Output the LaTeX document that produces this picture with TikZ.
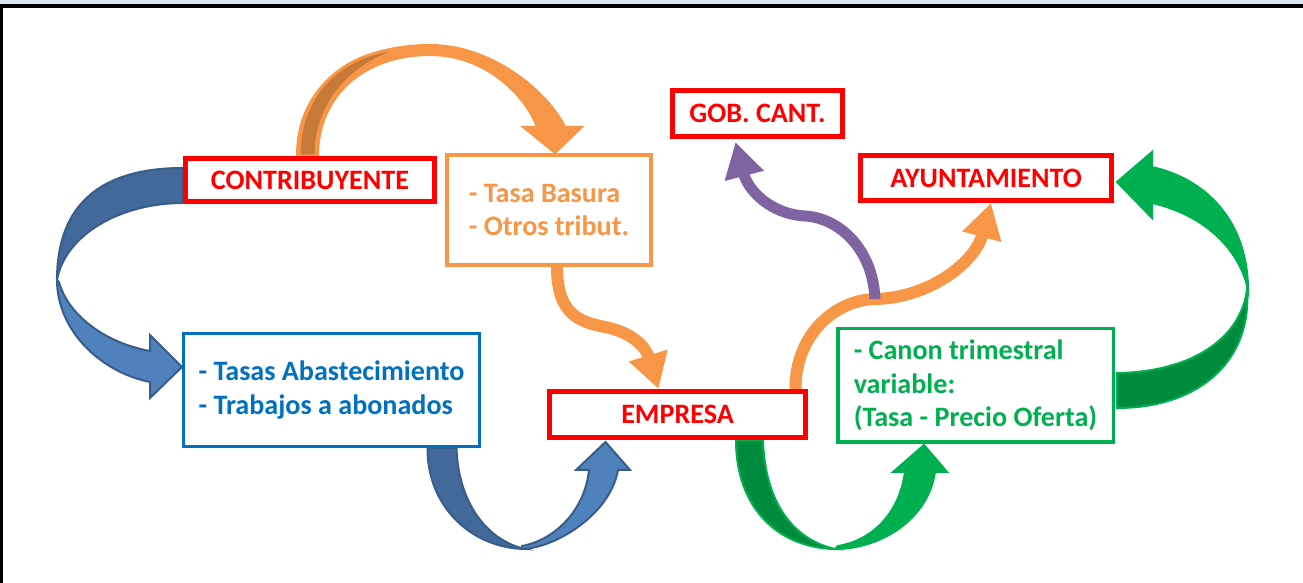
\documentclass[tikz,border=0pt]{standalone}
\usepackage{fontspec}
\setmainfont{Carlito}
\usetikzlibrary{arrows.meta, calc}

\definecolor{boxred}{RGB}{255,0,0}
\definecolor{tasaorange}{RGB}{247,150,70}
\definecolor{tasaback}{RGB}{199,122,56}
\definecolor{aguablue}{RGB}{0,112,192}
\definecolor{arrowblue}{RGB}{79,129,189}
\definecolor{arrowblueback}{RGB}{66,105,154}
\definecolor{arrowblueline}{RGB}{56,93,138}
\definecolor{canongreen}{RGB}{0,176,80}
\definecolor{canonback}{RGB}{0,138,62}
\definecolor{gobpurple}{RGB}{128,100,162}
\definecolor{framesky}{RGB}{220,230,242}

\newcommand{\boxfont}{\fontsize{16}{19}\selectfont\bfseries}

\pgfdeclarelayer{bg}
\pgfsetlayers{bg,main}

\begin{document}
\begin{tikzpicture}[x=0.2mm, y=-0.2mm,
  redbox/.style={draw=boxred, line width=1mm, fill=white, text=boxred, font=\boxfont},
  infobox/.style={draw=#1, text=#1, fill=white, align=left, font=\boxfont},
  thinarrow/.style={line width=2.4mm, -{Triangle[width=7.6mm,length=7mm]}}]
\useasboundingbox (0,0) rectangle (1303,583);
% frame
\fill[framesky] (0,0) rectangle (1303,4);
\fill[black] (0,4) rectangle (1303,8);
\fill[black] (0,4) rectangle (3,583);

% boxes
\node (contrib) at (310,180) [redbox, minimum width=49.8mm, minimum height=8.6mm] {CONTRIBUYENTE};
\node (tasa) at (549,210) [infobox=tasaorange, line width=0.8mm, minimum width=40.8mm, minimum height=22mm] {- Tasa Basura\\- Otros tribut.};
\node (gob) at (757.5,113.5) [redbox, minimum width=34mm, minimum height=9.2mm] {GOB. CANT.};
\node (ayunt) at (986,178) [redbox, minimum width=50.2mm, minimum height=9mm] {AYUNTAMIENTO};
\node (abast) at (331.5,390) [infobox=aguablue, line width=0.6mm, minimum width=59.2mm, minimum height=22.6mm] {- Tasas Abastecimiento\\- Trabajos a abonados};
\node (empresa) at (677.5,414.5) [redbox, minimum width=51.2mm, minimum height=9.2mm] {EMPRESA};
\node (canon) at (975.5,385.5) [infobox=canongreen, line width=0.7mm, minimum width=55.1mm, minimum height=22.7mm] {- Canon trimestral\\variable:\\(Tasa - Precio Oferta)};
\coordinate (fork) at (875,299);

\begin{pgfonlayer}{bg}
% contribuyente -> tasas abastecimiento
\filldraw[fill=arrowblueback, draw=arrowblueline, line width=0.4mm] ($(contrib.west)+(0,-12)$) .. controls (100,168) and (57,205) .. (57,280)
  .. controls (65,235) and (120,203) .. ($(contrib.west)+(0,23)$) -- cycle;
\filldraw[fill=arrowblue, draw=arrowblueline, line width=0.4mm] (57,280) .. controls (57,330) and (100,372) .. (150,382) -- (150,398)
  -- ($(abast.west)+(0,-23)$) -- (150,335) -- (150,351) .. controls (105,343) and (68,315) .. (59,282) -- cycle;

% contribuyente -> tasa basura
\filldraw[fill=tasaorange, draw=tasaorange, line width=0.4mm] ($(contrib.north)+(-13,0)$) .. controls (297,80) and (360,45) .. (430,45)
  .. controls (495,45) and (550,95) .. (565,127) -- (582,127) -- ($(tasa.north)+(6,0)$) -- (523,127) -- (537,127)
  .. controls (525,95) and (485,55) .. (430,55) .. controls (365,55) and (318,95) .. ($(contrib.north)+(8,0)$) -- cycle;
\filldraw[fill=tasaback, draw=tasaorange, line width=0.6mm] ($(contrib.north)+(-11,0)$) .. controls (299,90) and (345,52) .. (405,48)
  .. controls (355,62) and (316,100) .. ($(contrib.north)+(6,0)$) -- cycle;

% tasas abastecimiento -> empresa
\filldraw[fill=arrowblueback, draw=arrowblueline, line width=0.4mm] ($(abast.south)+(96,0)$) .. controls (427,505) and (470,548) .. (525,549)
  .. controls (485,540) and (458,500) .. ($(abast.south)+(125,0)$) -- cycle;
\filldraw[fill=arrowblue, draw=arrowblueline, line width=0.4mm] (522,549) .. controls (555,548) and (610,515) .. (618,470) -- (630,470)
  -- ($(empresa.south)+(-72,2)$) -- (576,470) -- (589,470) .. controls (585,510) and (555,540) .. (522,546) -- cycle;

% empresa -> canon
\filldraw[fill=canonback, draw=canongreen, line width=0.4mm] ($(empresa.south)+(58.5,0)$) .. controls (736,510) and (780,548) .. (835,549)
  .. controls (795,540) and (765,505) .. ($(empresa.south)+(85.5,0)$) -- cycle;
\filldraw[fill=canongreen, draw=canongreen, line width=0.4mm] (835,549) .. controls (880,549) and (928,520) .. (935,472) -- (947,472)
  -- ($(canon.south)+(-51.5,1)$) -- (893,472) -- (905,472) .. controls (900,510) and (875,540) .. (838,546) -- cycle;

% canon -> ayuntamiento
\filldraw[fill=canongreen, draw=canongreen, line width=0.4mm] (1152,167) .. controls (1210,180) and (1248,225) .. (1248,290)
  .. controls (1240,250) and (1205,215) .. (1152,203) -- (1152,218) -- ($(ayunt.east)+(3,4)$) -- (1152,152) -- cycle;
\filldraw[fill=canonback, draw=canongreen, line width=0.4mm] ($(canon.east)+(2,-12.5)$) .. controls (1190,372) and (1240,340) .. (1247,290)
  .. controls (1252,360) and (1200,408) .. ($(canon.east)+(2,22.5)$) -- cycle;

% tasa basura -> empresa
\draw[thinarrow, tasaorange] ($(tasa.south)+(8,0)$) .. controls (557,315) and (580,322) .. (605,327)
  .. controls (630,332) and (645,345) .. ($(empresa.north)+(-19,0)$);
% empresa -> ayuntamiento, gob. cant.
\draw[thinarrow, tasaorange] ($(empresa.north)+(118,0)$) .. controls (795,335) and (835,300) .. (fork)
  .. controls (930,298) and (975,262) .. ($(ayunt.south)+(5,0)$);
\draw[thinarrow, gobpurple, line width=2.2mm] (fork) .. controls (873,250) and (840,218) .. (805,216)
  .. controls (770,214) and (748,190) .. ($(gob.south)+(-22,3)$);
\end{pgfonlayer}
\end{tikzpicture}
\end{document}
